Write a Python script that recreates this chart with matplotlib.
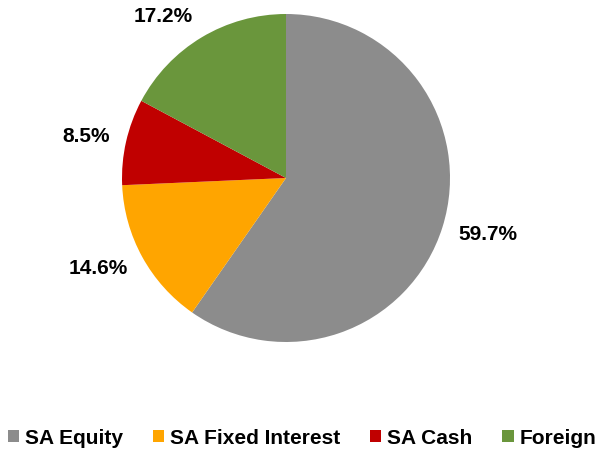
import matplotlib
matplotlib.use("Agg")
import numpy as np
import matplotlib.pyplot as plt
from matplotlib.patches import Patch

categories = ["SA Equity", "SA Fixed Interest", "SA Cash", "Foreign"]
values = [59.7, 14.6, 8.5, 17.2]
colors = ["#8C8C8C", "#FFA500", "#C00000", "#6A963C"]

plt.rcParams['font.family'] = ['Liberation Sans', 'DejaVu Sans']

fig = plt.figure(figsize=(6.04, 4.5), dpi=100)
cx, cy, r = 286 / 604, (450 - 178) / 450, 164
ax = fig.add_axes([cx - r / 604, cy - r / 450, 2 * r / 604, 2 * r / 450])
wedges, texts, autotexts = ax.pie(
    values, colors=colors, startangle=90, counterclock=False,
    autopct=lambda p: f"{p:.1f}%", pctdistance=1.2, radius=1,
    wedgeprops=dict(linewidth=0),
    textprops=dict(fontsize=15, fontweight='bold', color='black'))
ax.set_xlim(-1, 1)
ax.set_ylim(-1, 1)
ax.axis('off')

# Place labels "outside end": text box offset from the rim along the wedge bisector
fig.canvas.draw()
renderer = fig.canvas.get_renderer()
px_per_unit = r
gap = 0.1
for w, t in zip(wedges, autotexts):
    ang = np.deg2rad((w.theta1 + w.theta2) / 2)
    ux, uy = np.cos(ang), np.sin(ang)
    bb = t.get_window_extent(renderer)
    hw = bb.width / 2 / px_per_unit
    hh = 7.5 / px_per_unit
    x = (1 + gap) * ux + hw * np.sign(ux)
    y = (1 + gap) * uy + hh * uy
    t.set_position((x, y))
    t.set_ha('center')
    t.set_va('center')

handles = [Patch(facecolor=c, edgecolor='none') for c in colors]
fig.legend(handles, categories, loc='center', bbox_to_anchor=(0.5, 1 - 438 / 450),
           ncol=4, frameon=False, prop=dict(size=15, weight='bold'),
           handlelength=0.53, handleheight=0.53, handletextpad=0.29,
           columnspacing=1.44, borderpad=0, borderaxespad=0)

fig.savefig("out.png", dpi=100)
